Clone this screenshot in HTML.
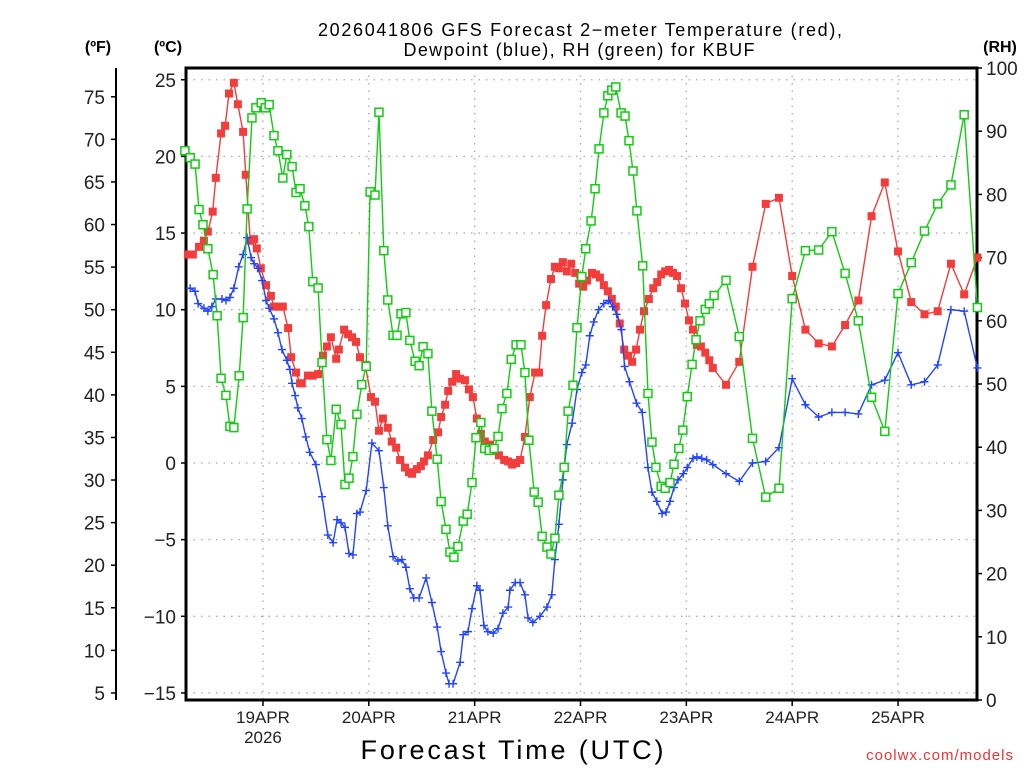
<!DOCTYPE html>
<html><head><meta charset="utf-8"><style>
html,body{margin:0;padding:0;background:#fff;}
svg{display:block;font-family:"Liberation Sans",sans-serif;}
</style></head><body>
<svg id="chart" width="1024" height="768" viewBox="0 0 1024 768" xmlns="http://www.w3.org/2000/svg">
<text x="580" y="36" font-size="18" text-anchor="middle" textLength="524">2026041806 GFS Forecast 2−meter Temperature (red),</text>
<text x="579" y="56" font-size="18" text-anchor="middle" textLength="351">Dewpoint (blue), RH (green) for KBUF</text>
<text x="98" y="52" font-size="16" font-weight="bold" text-anchor="middle">(ºF)</text>
<text x="168" y="52" font-size="16" font-weight="bold" text-anchor="middle">(ºC)</text>
<text x="1000" y="52" font-size="16" font-weight="bold" text-anchor="middle">(RH)</text>
<text x="512" y="759" font-size="27" text-anchor="middle" textLength="303">Forecast Time (UTC)</text>
<text x="1014" y="760" font-size="15" fill="#e33" text-anchor="end" letter-spacing="1">coolwx.com/models</text>
<g id="grid"></g><g id="axes"></g><g id="series"></g>
</svg>
<script>
const tTemp=[1,2.1,3.5,4.6,5.5,6.6,7.3,8.5,9.4,10.3,11.4,12.3,13.5,14.1,15.1,16,16.6,17.5,18.7,19.8,20.5,21.6,22.5,23.7,24.4,25.5,26.4,26.8,28.2,29.3,30.5,31.6,32.5,33.4,34.6,35.2,36.4,37.3,38.2,39.1,40,41.2,42.5,43.4,44.3,45.2,46.3,47.2,48.2,49.1,50.2,51.1,51.8,52.9,53.8,54.5,55.4,56.6,57.7,58.4,59.3,60,60.9,61.8,62.7,63.8,64.7,65.6,66.5,67.4,68.3,69.5,70.4,71.5,72.7,73.6,74.5,75.4,76.3,77.4,78.5,79.7,80.6,81.3,82.2,83.3,84.2,85.1,86,86.9,87.9,88.8,89.7,90.6,91.5,92.6,93.5,94.4,95.3,96.2,97.1,98,98.9,99.9,100.8,101.7,102.6,103.5,104.4,105.5,106.5,107.4,108.3,109.2,110.1,111,111.9,112.8,113.7,114.6,115.5,116.4,117.3,118.3,119.2,120,123,126,129,132,135,138,141,144,147,150,153,156,159,162,165,168,171,174,177,180];
const temp=[13.6,13.6,14.1,14.5,15.1,16.4,18.6,21.5,22,24.1,24.8,23.4,21.6,18.8,14.5,14.6,14,12.7,11.6,10.9,10.2,10.2,10.2,8.8,6.9,5.9,5.2,5.2,5.7,5.7,5.8,7,7.6,8.2,6.8,7.4,8.7,8.4,8.2,7.9,6.9,6.4,4.3,4,2.1,2.9,2.3,1.4,1,0.2,-0.3,-0.6,-0.7,-0.4,-0.2,0.1,0.5,1.5,2,3,3.8,4.7,5.3,5.8,5.5,5.4,4.8,4.3,2.9,1.9,1.4,1.2,0.8,0.5,0.2,0.1,-0.1,0,0.2,1.7,4.3,5.9,5.9,8.3,10.3,12,12.8,12.7,13.1,12.5,13,12.4,11.7,11.5,11.9,12.4,12.3,12.1,11.6,11.2,10.7,10.2,9.1,7.4,7,6.6,7.4,8.7,9.9,10.7,11.4,11.8,12.3,12.5,12.6,12.4,12.2,11.4,10.4,9.3,8.7,7.7,7.6,7.2,6.7,6.2,5.1,6.6,12.8,16.9,17.3,12.2,8.7,7.8,7.6,9,10.6,16.1,18.3,13.8,10.5,9.7,9.9,13,11,13.4];
const tDew=[1.5,2.6,3.3,4.6,5.5,6.4,7.3,8.7,9.6,10.5,11.4,12.5,13.5,14.4,15.3,16,16.9,17.8,18.7,19.4,20.5,21.4,22.3,23.4,24.1,24.6,25.3,25.9,26.8,27.7,28.6,30,31.4,32.7,33.9,34.8,35.7,36.6,37.5,38.4,39.3,40,41.4,42.7,44.3,45.4,46.3,47.5,48.6,49.5,50.4,51.3,52.2,53.4,55,56.3,57.5,58.4,59.5,60.2,61.1,62.7,63.4,64.5,65.4,66.5,67.2,68.1,69,70.2,71.3,72.4,73.6,74,75.2,76.3,77.4,78.1,79.2,80.8,82.4,83.5,84.2,85.1,86,86.9,88.1,89.2,90.3,91.2,92.1,93,94.1,95.3,96.4,97.3,98.2,99.3,100,101.1,102.7,104,105.3,106.2,107.3,108.5,109.4,110.3,111.2,112.1,113.3,114.2,115.5,116.4,117.5,118.6,120,123,126,129,132,135,138,141,144,147,150,153,156,159,162,165,168,171,174,177,180];
const dew=[11.4,11.2,10.4,10.1,9.9,10.2,10.7,10.7,10.6,10.8,11.4,12.8,13.6,14.7,13.4,13,12.7,11.9,10.6,10.1,9.4,8.5,7.4,6.7,6.1,5.2,4.4,3.6,2.9,1.7,0.7,-0.1,-2.2,-4.7,-5.2,-3.7,-3.9,-4.2,-5.9,-6,-3.3,-3.2,-1.8,1.3,0.8,-1.6,-4.1,-6.1,-6.4,-6.3,-6.8,-8.2,-8.8,-8.8,-7.5,-9.1,-10.7,-12.3,-13.7,-14.4,-14.4,-13,-11.2,-11,-9.5,-8,-8.3,-10.6,-11,-11.1,-10.8,-9.8,-9.4,-8.3,-7.8,-7.8,-8.6,-10.1,-10.4,-10,-9.4,-8.6,-6.3,-4,-1.1,1.2,2.6,4.8,5.9,6.4,8.3,9.2,10,10.4,10.6,10.2,9.7,8.7,6.3,5.3,3.9,3.3,-0.3,-1.9,-2.5,-3.3,-3.2,-2.5,-1.6,-1.1,-0.7,-0.3,0.3,0.4,0.3,0.2,-0.1,-0.7,-1.2,0,0.1,1,5.5,3.8,3,3.3,3.3,3.2,5.1,5.4,7.2,5.1,5.3,6.4,10,9.9,6.2];
const tRH=[0.3,1.5,2.6,3.5,4.4,5.5,6.7,7.6,8.5,9.6,10.5,11.4,12.6,13.5,14.4,15.5,16.4,17.6,18.5,19.4,20.5,21.4,22.5,23.4,24.6,25.5,26.4,27.5,28.4,29.3,30.5,31.4,32.5,33.4,34.6,35.7,36.6,37.5,38.4,39.3,40.4,41.4,42.3,43.4,44.3,45.4,46.3,47.5,48.4,49.3,50.4,51.3,52.5,53.4,54.3,55.4,56.3,57.5,58.4,59.5,60.4,61.3,62.2,63.4,64.3,65.4,66.3,67.4,68.3,69.3,70.4,71.3,72.2,73.3,74.3,75.4,76.5,77.4,78.3,79.5,80.4,81.3,82.4,83.3,84.2,85.1,86.3,87.2,88.3,89.2,90.3,91.2,92.4,93.3,94.2,95.3,96.2,97.1,98,99.2,100.1,101,101.9,102.8,104.1,105.3,106.2,107.1,108.3,109.2,110.3,111.2,112.3,113.2,114.2,115.3,116.2,117.1,118.3,119.2,120.3,123,126,129,132,135,138,141,144,147,150,153,156,159,162,165,168,171,174,177,180];
const rh=[86.9,85.8,84.8,77.6,75.2,71.4,67.3,60.8,50.9,48.2,43.3,43.1,51.3,60.5,77.7,92.1,93.7,94.5,93.7,94.2,89.3,86.9,82.6,86.3,84.4,80.3,80.9,78.2,74.9,66.2,65.2,53.4,41.2,37.9,46,43.6,34.1,35.1,38.5,45.2,49.9,52.8,80.4,79.9,93,71.1,63.3,57.7,57.7,61.1,61.3,56.9,53.6,52.9,55.9,54.8,45.7,38.1,31.4,27,23.4,22.6,24.3,28.3,29.4,34.4,41.5,43.9,39.8,39.5,39.8,41.7,46.1,48.5,53.9,56.2,56.2,51.8,41.1,32.9,31.3,25.9,24.2,23.1,25.6,32.4,36.8,45.7,49.8,58.9,67,71.4,75.8,80.9,87.2,92.9,95.6,96.5,97,92.9,92.4,88.5,83.7,77.4,68.7,48.5,40.8,36.8,33.8,33.5,34.4,37.3,39.8,42.7,48,53.1,57,60,61.8,62.7,64,66.4,57.5,41.4,32.1,33.5,63.5,71.1,71.2,74.1,67.5,60,47.9,42.5,64.3,69.2,74.2,78.5,81.5,92.6,62.1];
const cTicks=[25,20,15,10,5,0,-5,-10,-15];
const fTicks=[75,70,65,60,55,50,45,40,35,30,25,20,15,10,5];
const rhTicks=[100,90,80,70,60,50,40,30,20,10,0];
const dayHours=[18,42,66,90,114,138,162];
const dayLabels=['19APR','20APR','21APR','22APR','23APR','24APR','25APR'];

const NS='http://www.w3.org/2000/svg';
const L=186,R=977,T=68,B=700;
const xS=h=>183.6+4.41*h;
const yC=c=>463-15.33*c;
const yF=f=>yC((f-32)*5/9);
const yRH=r=>700-6.32*r;
function mk(tag,attrs,parent,txt){const e=document.createElementNS(NS,tag);for(const k in attrs)e.setAttribute(k,attrs[k]);if(txt!==undefined)e.textContent=txt;parent.appendChild(e);return e;}
const grid=document.getElementById('grid'),axes=document.getElementById('axes'),ser=document.getElementById('series');

cTicks.forEach(c=>{const y=yC(c);
 const g=mk('line',{x1:L,x2:R,y1:y,y2:y,stroke:'#aaa','stroke-width':1.3,'stroke-dasharray':'1.5 6'},grid);
 
 const t=mk('line',{x1:L-5,x2:L,y1:y,y2:y,stroke:'#000','stroke-width':1.5},axes);
 
 const lb=mk('text',{x:L-10,y:y+7,'font-size':19,'text-anchor':'end',fill:'#222'},axes,c<0?'−'+(-c):String(c));
 });
dayHours.forEach((h,i)=>{const x=xS(h);
 const g=mk('line',{x1:x,x2:x,y1:T,y2:B,stroke:'#aaa','stroke-width':1.3,'stroke-dasharray':'1.5 6'},grid);
 
 const t=mk('line',{x1:x,x2:x,y1:B,y2:B+6,stroke:'#000','stroke-width':1.5},axes);
 
 const lb=mk('text',{x:x,y:B+23,'font-size':17,'text-anchor':'middle',fill:'#222'},axes,dayLabels[i]);
 });
const yr=mk('text',{x:xS(dayHours[0]),y:B+43,'font-size':17,'text-anchor':'middle',fill:'#222'},axes,'2026');

fTicks.forEach(f=>{const y=yF(f);
 const t=mk('line',{x1:111,x2:116,y1:y,y2:y,stroke:'#000','stroke-width':1.5},axes);
 
 const lb=mk('text',{x:105,y:y+7,'font-size':19,'text-anchor':'end',fill:'#222'},axes,String(f));
 });
rhTicks.forEach(r=>{const y=yRH(r);
 const t=mk('line',{x1:R,x2:R+5,y1:y,y2:y,stroke:'#000','stroke-width':1.5},axes);
 
 const lb=mk('text',{x:R+9,y:y+7,'font-size':19,'text-anchor':'start',fill:'#222'},axes,String(r));
 });
const fax=mk('line',{x1:116,x2:116,y1:T,y2:B,stroke:'#000','stroke-width':2},axes);

const frame=mk('rect',{x:L,y:T,width:R-L,height:B-T,fill:'none',stroke:'#000','stroke-width':3},axes);


function series(ts,vs,yf,color,kind,name){
 const g=mk('g',{},ser);
 const pts=ts.map((t,i)=>xS(t).toFixed(1)+','+yf(vs[i]).toFixed(1)).join(' ');
 const pl=mk('polyline',{points:pts,fill:'none',stroke:color,'stroke-width':1.4},g);
 
 ts.forEach((t,i)=>{const x=xS(t),y=yf(vs[i]);let m;
  if(kind==='fill')m=mk('rect',{x:x-4,y:y-4,width:8,height:8,fill:color},g);
  else if(kind==='open')m=mk('rect',{x:x-4,y:y-4,width:8,height:8,fill:'#fff',stroke:color,'stroke-width':1.5},g);
  else m=mk('path',{d:`M${x-4},${y}h8M${x},${y-4}v8`,stroke:color,'stroke-width':1.4},g);
  });
}
series(tTemp,temp,yC,'#f33c3c','fill','temperature');
series(tDew,dew,yC,'#2244ff','plus','dewpoint');
series(tRH,rh,yRH,'#11cc11','open','rh');
</script>
</body></html>
